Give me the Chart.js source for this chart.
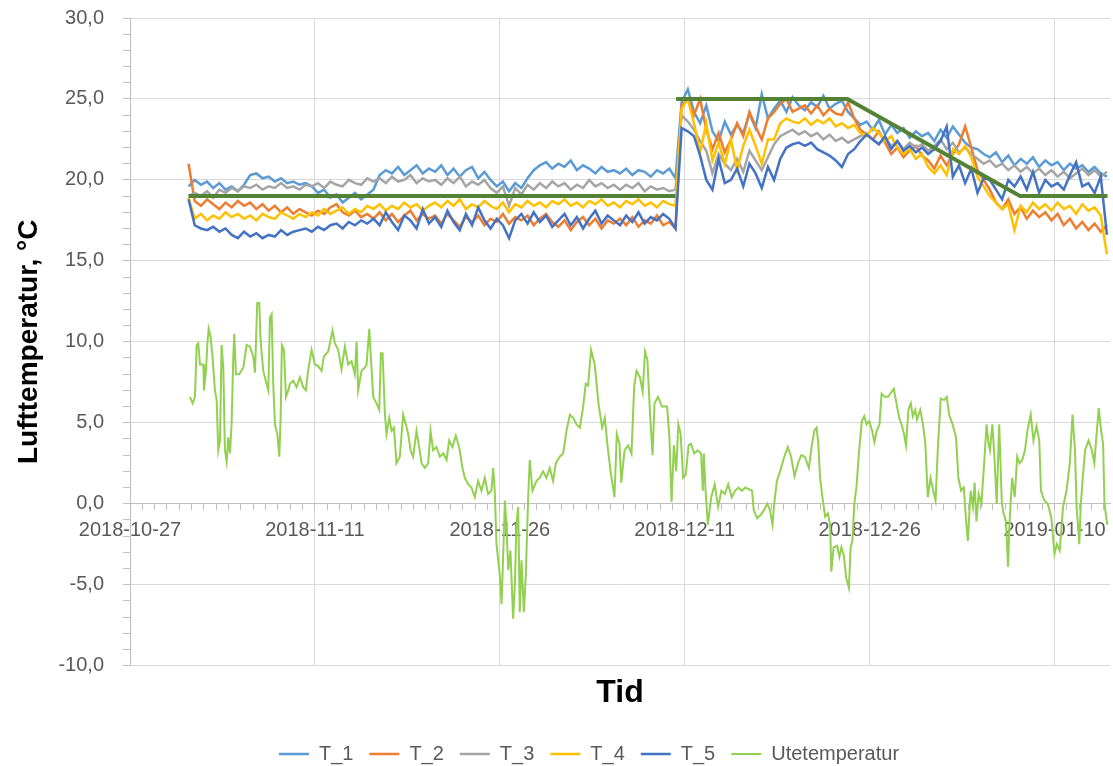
<!DOCTYPE html>
<html lang="no">
<head>
    <meta charset="UTF-8">
    <title>Lufttemperatur</title>
    <style>
        body {
            margin: 0;
            padding: 0;
            background: #fff;
        }
        #wrap {
            width: 1113px;
            height: 766px;
        }
    </style>
</head>
<body>
    <div id="wrap"><canvas id="tempChart" width="1113" height="766"></canvas></div>

    <script src="https://cdn.jsdelivr.net/npm/chart.js"></script>
    <script>
        // Time is counted in days after 2018-10-27 00:00
        const tickDays = [0, 15, 30, 45, 60, 75];
        const tickLabels = ['2018-10-27', '2018-11-11', '2018-11-26', '2018-12-11', '2018-12-26', '2019-01-10'];

        // Indoor loggers, one reading every 12 h from day 4.75
        const firstDay = 4.75;
        const stepDay = 0.5;

        const t1 = [
            19.6, 20.0, 19.7, 19.9, 19.5, 19.8, 19.4, 19.6, 19.3, 19.7,
            20.3, 20.4, 20.1, 20.2, 19.9, 20.1, 19.8, 19.9, 19.7, 19.8,
            19.6, 19.2, 19.4, 18.9, 19.1, 18.6, 18.9, 19.2, 18.8, 19.1,
            19.4, 20.3, 20.6, 20.4, 20.8, 20.3, 20.6, 20.9, 20.4, 20.7,
            20.5, 20.9, 20.3, 20.7, 20.2, 20.6, 20.8, 20.1, 20.5, 20.0,
            19.6, 19.9, 19.3, 19.8, 19.5, 20.1, 20.6, 20.9, 21.1, 20.7,
            21.0, 20.8, 21.2, 20.6, 20.9, 20.7, 20.4, 20.8, 20.5, 20.6,
            20.4, 20.7, 20.3, 20.6, 20.5, 20.2, 20.6, 20.4, 20.7, 20.1,
            24.8, 25.6, 24.2, 23.5, 24.6, 23.0, 22.4, 23.6, 22.8, 23.4,
            22.9, 24.1, 23.2, 25.3, 23.8, 24.4, 24.9, 24.2, 25.1, 24.6,
            24.3, 24.8, 24.5, 25.2, 24.4, 24.7, 24.9, 24.2, 23.8, 23.4,
            23.6, 23.1, 23.7, 22.8, 23.4, 22.9, 23.2, 22.6, 23.0, 22.7,
            22.9, 22.4, 23.1, 22.6, 23.3, 22.8, 22.3, 22.0, 21.9, 21.6,
            21.4, 21.7, 21.1, 21.5, 20.9, 21.3, 21.0, 21.4, 20.8, 21.2,
            20.9, 21.1, 20.6, 21.0, 20.7, 20.9, 20.5, 20.8, 20.4, 20.2
        ];
        const t2 = [
            21.0, 18.7, 18.4, 18.8, 18.5, 18.2, 18.6, 18.3, 18.7, 18.4,
            18.6, 18.2, 18.5, 18.1, 18.4, 18.0, 18.3, 17.9, 18.2, 18.0,
            17.8, 18.1, 17.9, 18.3, 18.5, 18.0, 17.8, 18.1, 17.7, 17.9,
            17.6, 18.0, 17.5, 17.9, 17.4, 17.8, 18.1, 17.5, 17.9, 17.6,
            17.8, 17.3, 17.9, 17.5, 17.1, 17.7, 17.4, 17.8, 17.2, 17.6,
            17.4, 17.9, 17.3, 17.7, 17.5, 17.8, 17.2, 17.6, 17.9, 17.4,
            17.1, 17.5, 16.9, 17.4, 17.7, 17.2, 17.6, 17.0, 17.5, 17.3,
            17.6, 17.2, 17.7, 17.1, 17.5, 17.3, 17.8, 17.2, 17.4, 17.0,
            24.6, 25.0, 24.0, 25.0, 23.1, 21.9, 22.9, 21.7, 22.5, 23.5,
            22.7, 24.2, 23.3, 22.5, 23.8, 24.2, 24.7, 25.0, 24.2, 24.4,
            24.6, 24.1, 24.6, 24.0, 24.4, 24.1, 24.0, 24.8, 23.8, 23.1,
            22.8, 22.5, 23.0, 22.3, 21.6, 22.0, 21.4, 21.8, 22.1, 21.5,
            21.2, 20.7, 21.5, 20.9, 21.6, 22.2, 23.3, 22.0, 20.6, 20.0,
            19.4, 18.6, 18.2, 18.8, 17.9, 18.3, 17.6, 18.1, 17.7, 18.0,
            17.5, 17.9, 17.2, 17.6, 17.0, 17.4, 16.9, 17.3, 16.8, 17.2
        ];
        const t3 = [
            19.0, 19.2, 19.0, 19.3, 18.9, 19.4, 19.2, 19.5, 19.3, 19.6,
            19.5, 19.7, 19.4, 19.6, 19.5, 19.8, 19.5, 19.6, 19.4, 19.7,
            19.6, 19.8, 19.5, 19.9, 19.7, 19.6, 20.0, 19.8, 19.7, 20.1,
            19.9, 20.1, 19.8, 20.2, 19.9, 20.0, 20.3, 19.8, 20.1, 19.9,
            20.0, 19.7, 20.1, 19.8, 20.2, 19.6, 19.9, 19.7, 20.0, 19.5,
            19.2, 19.6, 18.4, 19.5, 19.1, 19.7, 19.4, 19.8, 19.5, 19.9,
            19.6, 19.8, 19.4, 19.7, 19.5, 20.0, 19.6, 19.8, 19.5, 19.7,
            19.4, 19.7, 19.5, 19.8, 19.3, 19.6, 19.4, 19.5, 19.3, 19.4,
            24.0, 23.6, 23.1, 22.4, 21.8, 20.4, 21.6, 21.0, 20.6, 21.3,
            20.5, 21.8, 21.2, 20.6, 21.4, 22.2, 22.7, 22.9, 23.1, 22.8,
            23.0, 22.7, 22.9, 22.5, 22.8, 22.4, 22.6, 22.3, 22.5, 22.7,
            22.9, 22.5, 22.2, 22.6, 22.1, 22.4, 21.9, 22.3, 22.0, 22.2,
            21.8, 22.1, 22.5, 21.9, 22.3, 21.7, 22.0, 21.6, 21.3, 21.0,
            21.2, 20.8, 21.0, 20.6, 20.9, 20.5, 20.8, 20.4, 20.7, 20.3,
            20.6, 20.2, 20.5, 20.1, 20.4, 20.7, 20.3, 20.6, 20.2, 20.5
        ];
        const t4 = [
            18.9, 17.6, 17.9, 17.5, 17.8, 17.6, 18.0, 17.7, 17.9, 17.6,
            17.8, 17.5, 17.9, 17.7, 17.6, 18.0, 17.8, 17.6, 17.9, 17.7,
            18.0, 17.8, 18.2, 17.9, 18.1, 18.3, 17.9, 18.2, 18.0, 18.4,
            18.2, 18.5, 18.1, 18.4, 18.2, 18.6, 18.3, 18.5, 18.1, 18.4,
            18.6, 18.3, 18.7, 18.4, 18.8, 18.2, 18.5, 18.3, 18.7, 18.4,
            18.2, 18.6, 18.0, 18.5, 18.3, 18.7, 18.4, 18.6, 18.3, 18.7,
            18.5, 18.8, 18.4, 18.6, 18.3, 18.7, 18.5, 18.8, 18.4, 18.6,
            18.3, 18.7, 18.5, 18.8, 18.4, 18.6, 18.3, 18.7, 18.5, 18.4,
            24.4, 25.0, 23.5, 21.7, 23.5, 21.2, 22.3, 21.0, 22.5, 20.6,
            22.1, 23.1, 22.1, 21.0, 22.5, 22.5, 23.5, 23.8, 23.6, 23.5,
            23.8, 23.4, 23.7, 23.5, 23.8, 23.3, 23.5, 23.2, 23.4, 22.9,
            22.7, 23.2, 22.9, 22.4, 22.7, 22.0, 21.6, 21.9, 21.3, 21.6,
            20.8, 20.4, 20.9, 20.3, 21.9, 21.6, 22.1, 21.4, 20.2, 19.6,
            19.0, 18.6, 18.2, 18.5, 16.9, 18.4, 18.0, 18.6, 18.2, 18.5,
            18.1, 18.6, 18.2, 18.4, 17.9, 18.5, 18.1, 18.3, 17.8, 15.4
        ];
        const t5 = [
            18.8, 17.2, 17.0, 16.9, 17.1, 16.8, 17.0, 16.6, 16.4, 16.8,
            16.5, 16.7, 16.4, 16.6, 16.5, 16.9, 16.6, 16.8, 16.9, 17.0,
            16.8, 17.1, 16.9, 17.2, 17.3, 17.0, 17.4, 17.2, 17.5, 17.3,
            17.6, 17.2, 18.0, 17.4, 16.9, 17.8, 17.5, 17.0, 18.2, 17.3,
            17.7, 17.1, 18.1, 17.4, 16.9, 17.9, 17.2, 18.3, 17.5, 17.0,
            17.6, 17.2, 16.4, 17.5, 17.9, 17.3, 18.0, 17.4, 17.8, 17.1,
            17.5, 17.9, 17.2, 17.7, 17.0, 17.6, 18.1, 17.3, 17.8, 17.5,
            17.2, 17.8, 17.4, 18.0, 17.3, 17.7, 17.5, 17.9, 17.6, 17.0,
            23.2, 23.0, 22.7, 21.5, 20.0, 19.4, 21.3, 19.8, 20.0, 20.7,
            19.6, 21.0, 20.4, 19.5, 20.8, 20.0, 21.3, 22.0, 22.2, 22.3,
            22.1, 22.3, 21.9, 21.7, 21.5, 21.2, 20.8, 21.6, 21.9, 22.4,
            22.8, 22.5, 22.2, 22.7, 21.9, 22.4, 21.8, 22.1, 21.7, 22.0,
            21.6, 21.9, 22.4, 23.3, 20.2, 20.9, 19.8, 20.7, 19.2, 20.1,
            20.0, 19.4, 18.8, 20.0, 19.6, 20.2, 19.4, 20.5, 19.2, 20.0,
            19.6, 19.8, 19.4, 20.3, 21.1, 19.6, 19.8, 19.2, 20.2, 16.6
        ];

        // Outdoor temperature, read at irregular times (days after start)
        const uteDays = [
            4.86, 5.08, 5.27, 5.41, 5.54, 5.68, 5.95, 6.00, 6.16, 6.27, 6.38, 6.54, 6.70, 6.89, 7.03, 7.16, 7.30, 7.43, 7.57, 7.70,
            7.84, 7.97, 8.11, 8.24, 8.38, 8.46, 8.59, 8.86, 9.19, 9.46, 9.73, 10.00, 10.14, 10.32, 10.49, 10.59, 10.81, 11.08, 11.22, 11.35,
            11.49, 11.62, 11.76, 11.95, 12.11, 12.22, 12.32, 12.49, 12.65, 12.84, 12.97, 13.24, 13.51, 13.78, 14.05, 14.27, 14.46, 14.73, 15.00, 15.27,
            15.54, 15.73, 16.08, 16.43, 16.62, 16.89, 17.16, 17.43, 17.70, 17.97, 18.24, 18.38, 18.51, 18.78, 19.05, 19.19, 19.41, 19.59, 19.73, 20.00,
            20.22, 20.35, 20.49, 20.68, 20.81, 21.03, 21.22, 21.41, 21.62, 21.89, 22.16, 22.38, 22.57, 22.76, 22.97, 23.24, 23.46, 23.65, 23.92, 24.19,
            24.38, 24.59, 24.86, 25.14, 25.41, 25.68, 25.89, 26.16, 26.43, 26.70, 26.97, 27.16, 27.43, 27.70, 27.97, 28.24, 28.51, 28.78, 29.05, 29.32,
            29.46, 29.59, 29.73, 30.00, 30.14, 30.27, 30.41, 30.54, 30.68, 30.86, 31.08, 31.22, 31.35, 31.49, 31.62, 31.76, 31.95, 32.11, 32.30, 32.43,
            32.65, 32.97, 33.24, 33.51, 33.78, 34.05, 34.32, 34.54, 34.86, 35.14, 35.41, 35.68, 35.95, 36.22, 36.49, 36.76, 36.97, 37.16, 37.40, 37.70,
            38.00, 38.30, 38.52, 38.75, 39.02, 39.30, 39.49, 39.71, 39.85, 40.12, 40.40, 40.68, 40.90, 41.09, 41.37, 41.59, 41.78, 41.97, 42.19, 42.39,
            42.55, 42.83, 43.16, 43.57, 43.76, 43.93, 44.12, 44.31, 44.48, 44.67, 44.87, 45.09, 45.31, 45.50, 45.78, 46.05, 46.33, 46.47, 46.55, 46.69,
            46.88, 47.15, 47.43, 47.71, 47.98, 48.26, 48.53, 48.81, 49.08, 49.36, 49.64, 49.91, 50.19, 50.46, 50.60, 50.88, 51.15, 51.43, 51.70, 51.92,
            52.12, 52.26, 52.48, 52.81, 53.08, 53.36, 53.63, 53.91, 54.19, 54.46, 54.74, 55.07, 55.29, 55.51, 55.70, 55.84, 55.98, 56.17, 56.39, 56.61,
            56.80, 56.89, 57.08, 57.36, 57.55, 57.71, 57.91, 58.10, 58.32, 58.46, 58.60, 58.76, 58.93, 59.15, 59.37, 59.56, 59.76, 59.98, 60.20, 60.39,
            60.58, 60.80, 60.97, 61.22, 61.49, 61.77, 61.96, 62.18, 62.40, 62.59, 62.79, 62.95, 63.15, 63.34, 63.50, 63.70, 63.84, 64.11, 64.33, 64.52,
            64.72, 64.94, 65.16, 65.35, 65.54, 65.77, 66.04, 66.26, 66.45, 66.73, 67.01, 67.20, 67.42, 67.64, 67.83, 67.97, 68.19, 68.38, 68.52, 68.66,
            68.85, 69.07, 69.29, 69.49, 69.63, 69.76, 69.96, 70.12, 70.31, 70.51, 70.73, 70.87, 71.06, 71.23, 71.34, 71.56, 71.77, 71.97, 72.16, 72.38,
            72.60, 72.80, 73.07, 73.29, 73.54, 73.76, 73.90, 74.17, 74.45, 74.73, 75.00, 75.19, 75.42, 75.69, 75.97, 76.24, 76.46, 76.66, 76.79, 77.01,
            77.12, 77.29, 77.48, 77.76, 78.03, 78.23, 78.39, 78.59, 78.78, 78.94, 79.05, 79.28
        ];
        const uteTemps = [
            6.6, 6.2, 6.6, 9.8, 9.9, 8.6, 8.6, 7.0, 8.2, 9.8, 10.8, 10.3, 9.0, 7.0, 6.4, 3.3, 3.9, 9.8, 8.4, 3.3,
            2.6, 4.1, 3.1, 4.9, 9.1, 10.5, 8.0, 8.0, 8.4, 9.8, 9.7, 9.1, 8.1, 12.4, 12.4, 10.1, 8.2, 7.4, 7.0, 11.5,
            11.7, 7.4, 4.9, 4.3, 2.9, 5.3, 9.8, 9.5, 6.6, 7.0, 7.4, 7.6, 7.2, 7.8, 7.2, 7.0, 8.3, 9.5, 8.6, 8.5,
            8.2, 9.1, 9.4, 10.7, 9.9, 9.5, 8.3, 9.7, 8.6, 8.8, 8.0, 10.0, 7.0, 8.2, 8.4, 8.6, 10.8, 8.4, 6.6, 6.2,
            5.8, 9.3, 9.3, 5.5, 4.3, 5.3, 4.5, 4.7, 2.5, 2.9, 5.5, 4.9, 4.3, 3.3, 2.9, 4.5, 3.5, 2.5, 2.2, 2.5,
            4.5, 3.3, 3.5, 2.9, 3.1, 2.7, 3.9, 3.5, 4.2, 3.5, 2.2, 1.6, 1.2, 1.0, 0.4, 1.4, 0.8, 1.6, 0.6, 0.8,
            2.2, 0.8, -2.5, -4.4, -6.2, -3.3, 0.2, -1.3, -4.1, -2.9, -7.1, -5.0, -1.3, -0.2, -6.7, -3.5, -6.7, -4.4, 0.4, 2.7,
            0.8, 1.4, 1.6, 2.0, 1.6, 2.2, 1.4, 2.5, 2.9, 3.1, 4.5, 5.5, 5.3, 4.9, 4.7, 6.0, 7.4, 7.3, 9.5, 8.6,
            6.2, 4.7, 5.3, 3.5, 1.8, 0.4, 4.3, 3.7, 1.3, 3.3, 3.6, 3.1, 7.2, 8.2, 7.8, 6.9, 9.4, 8.9, 5.5, 3.0,
            6.2, 6.6, 6.0, 6.0, 4.1, 0.1, 3.6, 2.0, 4.9, 4.3, 1.6, 1.8, 3.6, 3.7, 3.1, 3.3, 3.1, 0.8, 3.1, 0.8,
            -1.3, 0.4, 1.2, -0.2, 0.8, 0.6, 1.2, 0.4, 0.8, 1.0, 0.8, 1.0, 0.9, 0.8, -0.4, -0.9, -0.7, -0.4, 0.0, -0.4,
            -1.3, 0.0, 1.4, 2.2, 2.9, 3.5, 2.9, 1.7, 2.5, 3.0, 2.9, 2.2, 3.5, 4.5, 4.7, 3.7, 1.6, 0.4, -0.8, -0.6,
            -1.3, -4.2, -2.7, -2.6, -3.3, -2.7, -3.2, -4.6, -5.2, -2.7, -2.3, 0.0, 1.0, 3.3, 5.1, 5.4, 4.9, 5.1, 4.5, 3.8,
            4.5, 4.9, 6.8, 6.6, 6.6, 6.9, 7.1, 6.2, 5.3, 4.9, 4.3, 3.6, 5.8, 6.2, 5.4, 5.8, 5.2, 5.8, 4.9, 3.7,
            0.4, 1.6, 0.8, 0.2, 3.5, 6.5, 6.4, 6.6, 5.5, 4.9, 4.1, 1.6, 0.8, 1.0, -1.1, -2.3, 0.8, -0.2, 1.3, -1.1,
            0.6, 0.0, 2.5, 4.9, 3.8, 3.3, 4.9, 2.9, 0.0, 4.9, 0.0, -0.6, -1.1, -3.9, -1.3, 1.6, 0.4, 2.9, 2.5, 2.7,
            3.3, 4.5, 5.5, 3.9, 4.8, 3.9, 0.8, 0.2, 0.0, -0.8, -3.1, -2.5, -2.9, -0.2, 0.8, 2.5, 5.5, 3.3, -0.2, -2.5,
            -0.2, 1.6, 3.3, 3.9, 3.3, 2.5, 4.1, 5.9, 4.5, 3.7, 0.0, -1.3
        ];

        // Setpoint (no legend entry), gap at the step up
        const spDays = [4.75, 44.25, 44.3, 44.3, 58.2, 72.2, 79.3];
        const spTemps = [19, 19, null, 25, 25, 19, 19];

        function onGrid(values) {
            return values.map((v, i) => ({ x: firstDay + i * stepDay, y: v }));
        }
        function pairs(days, temps) {
            return days.map((d, i) => ({ x: d, y: temps[i] }));
        }
        function line(label, data, color, width, order) {
            return {
                label: label,
                data: data,
                borderColor: color,
                backgroundColor: color,
                borderWidth: width,
                pointRadius: 0,
                tension: 0,
                order: order,
                spanGaps: false
            };
        }
        function fmt(v) {
            return v.toFixed(1).replace('.', ',');
        }

        // the legend sits a little right of the canvas centre
        const legendShift = {
            id: 'legendShift',
            afterLayout(chart) {
                chart.legend.left += 34;
                chart.legend.right += 34;
            }
        };

        Chart.defaults.font.family = "'Liberation Sans', Arial, sans-serif";
        Chart.defaults.color = '#595959';

        const ctx = document.getElementById('tempChart').getContext('2d');
        const tempChart = new Chart(ctx, {
            type: 'line',
            data: {
                datasets: [
                    line('T_1', onGrid(t1), '#5B9BD5', 2.5, 6),
                    line('T_2', onGrid(t2), '#ED7D31', 2.5, 5),
                    line('T_3', onGrid(t3), '#A5A5A5', 2.5, 4),
                    line('T_4', onGrid(t4), '#FFC000', 2.5, 3),
                    line('T_5', onGrid(t5), '#4472C4', 2.5, 2),
                    line('Utetemperatur', pairs(uteDays, uteTemps), '#92D050', 2, 1),
                    line('Settpunkt', pairs(spDays, spTemps), '#548235', 4, 0)
                ]
            },
            plugins: [legendShift],
            options: {
                responsive: false,
                animation: false,
                layout: {
                    padding: { top: 18, right: 3, bottom: -8, left: 0 }
                },
                scales: {
                    x: {
                        type: 'linear',
                        position: { y: 0 },
                        min: 0,
                        max: 79.5,
                        grid: {
                            color: (c) => (c.tick && tickDays.includes(c.tick.value)) ? '#d9d9d9' : 'rgba(0,0,0,0)',
                            tickColor: '#bfbfbf',
                            tickLength: 6,
                            lineWidth: 1
                        },
                        border: { color: '#bfbfbf', width: 1 },
                        ticks: {
                            stepSize: 1,
                            autoSkip: false,
                            maxRotation: 0,
                            includeBounds: false,
                            padding: 9,
                            font: { size: 20 },
                            color: '#595959',
                            callback: (v) => {
                                const i = tickDays.indexOf(v);
                                return i >= 0 ? tickLabels[i] : '';
                            }
                        }
                    },
                    y: {
                        min: -10,
                        max: 30,
                        afterFit: (scale) => {
                            scale.width = 130;
                            scale.paddingTop = 0;
                            scale.paddingBottom = 0;
                        },
                        grid: {
                            color: (c) => (c.tick && c.tick.value % 5 === 0) ? '#d9d9d9' : 'rgba(0,0,0,0)',
                            tickColor: '#bfbfbf',
                            tickLength: 7
                        },
                        border: { color: '#bfbfbf', width: 1 },
                        ticks: {
                            stepSize: 1,
                            autoSkip: false,
                            padding: 19,
                            font: { size: 20 },
                            color: '#595959',
                            callback: (v) => (v % 5 === 0 ? fmt(v) : '')
                        },
                        title: {
                            display: true,
                            text: 'Lufttemperatur, °C',
                            color: '#000',
                            font: { size: 28, weight: 'bold' },
                            padding: { top: 12, bottom: 0 }
                        }
                    }
                },
                plugins: {
                    title: {
                        display: true,
                        text: 'Tid',
                        position: 'bottom',
                        fullSize: false,
                        weight: 500,
                        color: '#000',
                        font: { size: 32, weight: 'bold' },
                        padding: { top: 8, bottom: 16 }
                    },
                    legend: {
                        position: 'bottom',
                        reverse: true,
                        labels: {
                            usePointStyle: true,
                            pointStyle: 'line',
                            pointStyleWidth: 30,
                            padding: 16,
                            font: { size: 20 },
                            color: '#595959',
                            filter: (item) => item.text !== 'Settpunkt'
                        }
                    },
                    tooltip: { enabled: false }
                }
            }
        });
    </script>
</body>
</html>
